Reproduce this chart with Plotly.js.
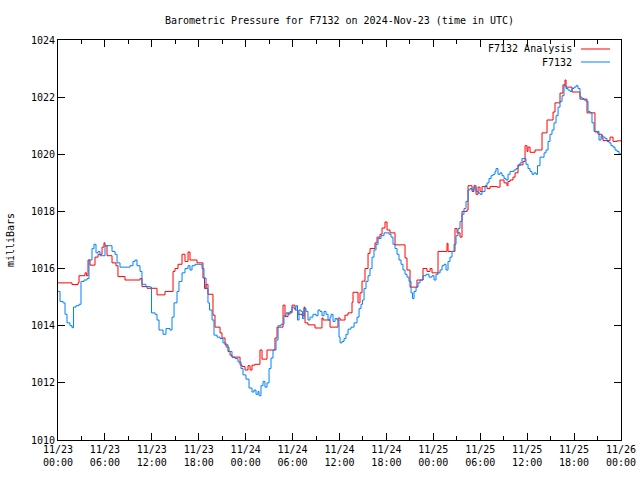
<!DOCTYPE html>
<html>
<head>
<meta charset="utf-8">
<script src="https://cdn.plot.ly/plotly-3.0.1.min.js"></script>
<style>html,body{margin:0;padding:0;background:#fff;}#chart{width:640px;height:480px;}</style>
</head>
<body>
<div id="chart"></div>
<script>
// Hours since 2024-11-23 00:00 UTC
const obsHours = [0.0,0.26,0.64,0.90,1.15,1.53,1.79,1.98,2.30,2.69,2.94,3.33,3.71,3.96,4.35,4.60,4.86,5.12,5.37,5.76,6.01,6.65,6.91,7.29,7.55,7.93,8.57,9.21,9.59,9.85,10.10,10.49,10.74,11.25,11.77,11.96,12.41,12.66,12.92,13.43,13.81,14.32,14.58,14.84,15.22,15.47,15.86,16.24,16.63,16.88,17.14,17.52,18.03,18.42,18.67,18.93,19.18,19.38,19.70,19.95,20.34,20.72,21.10,21.49,21.87,22.25,22.64,23.02,23.40,23.66,24.04,24.43,24.81,25.07,25.32,25.58,25.71,25.96,26.22,26.47,26.73,26.99,27.24,27.50,27.88,28.14,28.52,28.90,29.16,29.42,29.67,29.93,30.18,30.44,30.63,30.82,31.08,31.27,31.46,31.72,31.97,32.23,32.61,33.00,33.25,33.51,33.76,34.02,34.28,34.53,34.79,34.92,35.17,35.43,35.68,35.94,36.07,36.32,36.58,36.83,37.09,37.47,37.86,38.24,38.50,38.75,38.94,39.14,39.39,39.65,39.90,40.16,40.41,40.67,40.93,41.31,41.69,42.08,42.33,42.59,42.84,43.10,43.36,43.61,43.87,44.12,44.38,44.63,44.89,45.15,45.34,45.53,45.79,46.04,46.30,46.68,47.07,47.45,47.83,48.09,48.34,48.60,48.86,49.11,49.37,49.62,49.88,50.13,50.39,50.65,50.90,51.16,51.41,51.67,51.92,52.18,52.44,52.69,52.95,53.20,53.46,53.72,53.97,54.23,54.61,54.87,55.12,55.38,55.63,55.89,56.02,56.27,56.53,56.78,57.04,57.30,57.55,57.81,58.06,58.32,58.58,58.83,59.09,59.34,59.60,59.85,60.11,60.37,60.62,60.88,61.13,61.32,61.64,61.90,62.16,62.41,62.67,62.92,63.18,63.43,63.69,63.95,64.20,64.46,64.71,64.97,65.23,65.48,65.74,65.99,66.25,66.50,66.76,67.02,67.27,67.53,67.78,68.04,68.29,68.55,68.93,69.19,69.45,69.70,69.96,70.21,70.47,70.72,70.98,71.24,71.49,71.75,72.0];
const obsPressure = [1015.2,1014.85,1014.8,1014.4,1014.1,1014.0,1013.93,1014.65,1014.7,1014.75,1015.55,1015.6,1015.65,1016.3,1016.7,1016.85,1016.55,1016.6,1016.45,1016.45,1016.8,1016.8,1016.6,1016.5,1016.2,1016.05,1016.05,1016.1,1016.25,1016.3,1016.1,1015.9,1015.45,1015.37,1015.35,1014.45,1014.4,1014.2,1013.85,1013.7,1013.9,1013.85,1014.3,1014.8,1015.2,1015.55,1015.85,1016.0,1016.1,1015.95,1016.1,1016.15,1016.15,1016.0,1015.67,1015.3,1014.8,1014.55,1014.2,1013.67,1013.6,1013.55,1013.4,1013.25,1013.1,1012.9,1012.85,1012.73,1012.5,1012.28,1012.13,1011.82,1011.68,1011.75,1011.6,1011.7,1011.55,1011.9,1012.05,1011.85,1012.0,1012.5,1012.87,1013.15,1013.5,1014.0,1014.05,1014.35,1014.45,1014.4,1014.5,1014.65,1014.6,1014.7,1014.2,1014.55,1014.5,1014.25,1014.6,1014.5,1014.2,1014.3,1014.4,1014.35,1014.55,1014.5,1014.35,1014.5,1014.4,1014.2,1014.3,1014.4,1014.15,1014.25,1014.2,1013.6,1013.4,1013.45,1013.55,1013.7,1013.88,1013.95,1014.1,1014.3,1014.6,1014.75,1014.9,1015.3,1015.55,1015.75,1016.0,1016.4,1016.65,1016.85,1017.05,1017.15,1017.25,1017.25,1017.2,1017.1,1016.85,1016.7,1016.5,1016.3,1016.15,1015.95,1015.8,1015.7,1015.55,1015.15,1014.95,1015.2,1015.35,1015.5,1015.6,1015.75,1015.8,1015.7,1015.75,1015.6,1015.8,1015.85,1015.95,1016.1,1016.15,1015.95,1016.25,1016.4,1016.6,1016.85,1017.15,1017.4,1017.65,1017.9,1018.1,1018.35,1018.75,1018.8,1018.75,1018.85,1018.7,1018.65,1018.6,1018.7,1018.9,1019.0,1019.15,1019.25,1019.3,1019.4,1019.5,1019.3,1019.35,1019.25,1019.15,1019.1,1019.3,1019.4,1019.4,1019.45,1019.5,1019.6,1019.7,1019.85,1019.85,1019.65,1019.5,1019.4,1019.3,1019.35,1019.3,1019.6,1019.9,1019.9,1020.05,1020.15,1020.45,1020.7,1020.85,1021.1,1021.35,1021.65,1021.85,1022.05,1022.4,1022.3,1022.25,1022.2,1022.3,1022.35,1022.4,1022.3,1022.0,1021.95,1021.9,1021.85,1021.5,1021.45,1021.1,1020.8,1020.8,1020.5,1020.65,1020.6,1020.55,1020.45,1020.4,1020.3,1020.25,1020.15,1020.1,1020.0,1020.05];

const anaHours = [0,1.79,2.56,2.69,3.45,3.64,3.84,4.09,4.73,5.12,5.63,5.88,6.01,6.27,6.91,7.42,7.67,8.57,10.49,10.74,11.38,12.66,13.68,14.71,14.96,15.35,15.86,16.24,16.63,16.88,17.78,18.54,18.74,18.93,19.18,19.82,20.08,20.72,20.97,21.36,21.74,22.00,22.25,23.28,23.53,23.92,24.30,24.56,24.81,25.19,25.83,26.09,26.73,27.75,28.01,28.78,29.03,29.42,29.93,30.31,30.69,31.21,31.46,31.59,31.97,32.87,33.76,33.89,34.79,35.81,36.07,36.70,37.09,37.60,37.73,38.37,38.62,38.88,39.26,39.65,39.90,40.54,40.80,41.18,41.44,41.82,42.08,42.46,43.10,44.38,44.63,45.02,45.91,46.68,47.19,47.58,47.83,48.60,49.75,49.88,50.77,51.03,51.41,51.67,52.31,52.44,52.95,53.20,53.46,53.72,53.97,54.23,54.87,55.25,56.14,56.53,57.04,57.42,57.55,57.81,58.19,58.45,58.83,59.47,59.73,59.98,60.11,60.37,61.01,61.90,62.54,63.31,63.56,64.20,64.58,64.84,64.97,65.74,66.76,67.65,68.67,69.06,69.57,69.70,70.60,70.98,71.49,72.0];
const anaPressure = [1015.5,1015.44,1015.5,1015.75,1015.85,1015.75,1016.3,1016.12,1016.4,1016.5,1016.75,1016.9,1016.8,1016.45,1016.2,1016.1,1015.72,1015.6,1015.65,1015.37,1015.31,1015.08,1015.2,1015.9,1016.0,1016.15,1016.5,1016.25,1016.58,1016.3,1016.2,1015.67,1015.3,1015.45,1015.1,1014.37,1013.95,1013.75,1013.57,1013.33,1013.1,1012.97,1012.9,1012.63,1012.57,1012.45,1012.6,1012.45,1012.62,1012.65,1013.15,1012.83,1013.15,1013.57,1013.95,1014.72,1014.32,1014.45,1014.72,1014.55,1014.4,1014.35,1014.65,1014.1,1014.03,1013.92,1014.27,1014.2,1013.95,1014.27,1014.2,1014.37,1014.45,1014.82,1015.17,1014.8,1015.15,1015.56,1016.0,1016.53,1016.7,1016.9,1017.1,1017.2,1017.42,1017.63,1017.35,1017.25,1016.83,1016.37,1015.95,1015.35,1015.6,1016.0,1015.9,1016.0,1015.85,1016.6,1016.88,1016.6,1017.4,1017.25,1017.1,1018.0,1018.05,1018.9,1018.7,1018.9,1018.6,1018.85,1018.7,1018.87,1018.8,1018.87,1018.85,1019.1,1019.0,1018.9,1019.05,1019.1,1019.2,1019.35,1019.63,1019.75,1020.3,1020.1,1020.25,1020.07,1020.15,1020.75,1021.2,1021.48,1021.8,1022.14,1022.43,1022.6,1022.35,1022.18,1021.93,1021.45,1020.78,1020.7,1020.57,1020.48,1020.6,1020.45,1020.47,1020.5];

const tickHours = [0,6,12,18,24,30,36,42,48,54,60,66,72];
const tickLabels = ['11/23<br>00:00','11/23<br>06:00','11/23<br>12:00','11/23<br>18:00','11/24<br>00:00','11/24<br>06:00','11/24<br>12:00','11/24<br>18:00','11/25<br>00:00','11/25<br>06:00','11/25<br>12:00','11/25<br>18:00','11/26<br>00:00'];
const seriesNames = ['F7132 Analysis', 'F7132'];
const seriesColors = ['#ff0000', '#0080ff'];

const font = 'DejaVu Sans Mono, monospace';

const traces = [
  {x: anaHours, y: anaPressure, name: seriesNames[0], type: 'scatter', mode: 'lines',
   line: {color: seriesColors[0], width: 1, shape: 'hv'}},
  {x: obsHours, y: obsPressure, name: seriesNames[1], type: 'scatter', mode: 'lines',
   line: {color: seriesColors[1], width: 1, shape: 'hv'}}
];

const layout = {
  width: 640, height: 480,
  paper_bgcolor: '#ffffff', plot_bgcolor: '#ffffff',
  margin: {l: 58, r: 19, t: 40, b: 40},
  showlegend: false,
  font: {family: font, size: 10, color: '#000'},
  title: {text: 'Barometric Pressure for F7132 on 2024-Nov-23 (time in UTC)',
          font: {family: font, size: 10, color: '#000'},
          x: 0.5, xref: 'paper', xanchor: 'center', y: 1 - 20/480, yref: 'container', yanchor: 'middle'},
  xaxis: {range: [0, 72], tickmode: 'array', tickvals: tickHours, ticktext: tickLabels,
          ticks: 'inside', ticklen: 7, tickwidth: 1, tickcolor: '#000',
          minor: {dtick: 3, tick0: 0, ticks: 'inside', ticklen: 4, tickcolor: '#000', showgrid: false},
          showline: true, linecolor: '#000', linewidth: 1, mirror: 'allticks',
          showgrid: false, zeroline: false, automargin: false,
          tickfont: {family: font, size: 10, color: '#000'}},
  yaxis: {range: [1010, 1024], dtick: 2, tick0: 1010, tickformat: 'd',
          ticks: 'inside', ticklen: 7, tickwidth: 1, tickcolor: '#000',
          showline: true, linecolor: '#000', linewidth: 1, mirror: 'allticks',
          showgrid: false, zeroline: false, automargin: false,
          tickfont: {family: font, size: 10, color: '#000'},
          title: {text: 'milliBars', font: {family: font, size: 10, color: '#000'}, standoff: 14}},
  annotations: [
    {xref: 'paper', yref: 'paper', x: (574-58)/563, y: (440-49)/400, xanchor: 'right', yanchor: 'middle',
     text: seriesNames[0], showarrow: false, font: {family: font, size: 10, color: '#000'}},
    {xref: 'paper', yref: 'paper', x: (574-58)/563, y: (440-62)/400, xanchor: 'right', yanchor: 'middle',
     text: seriesNames[1], showarrow: false, font: {family: font, size: 10, color: '#000'}}
  ],
  shapes: [
    {type: 'line', xref: 'paper', yref: 'paper', x0: (581-58)/563, x1: (610-58)/563, y0: (440-49)/400, y1: (440-49)/400,
     line: {color: seriesColors[0], width: 1}},
    {type: 'line', xref: 'paper', yref: 'paper', x0: (581-58)/563, x1: (610-58)/563, y0: (440-62)/400, y1: (440-62)/400,
     line: {color: seriesColors[1], width: 1}}
  ]
};

Plotly.newPlot('chart', traces, layout, {staticPlot: true, displayModeBar: false});
</script>
</body>
</html>
